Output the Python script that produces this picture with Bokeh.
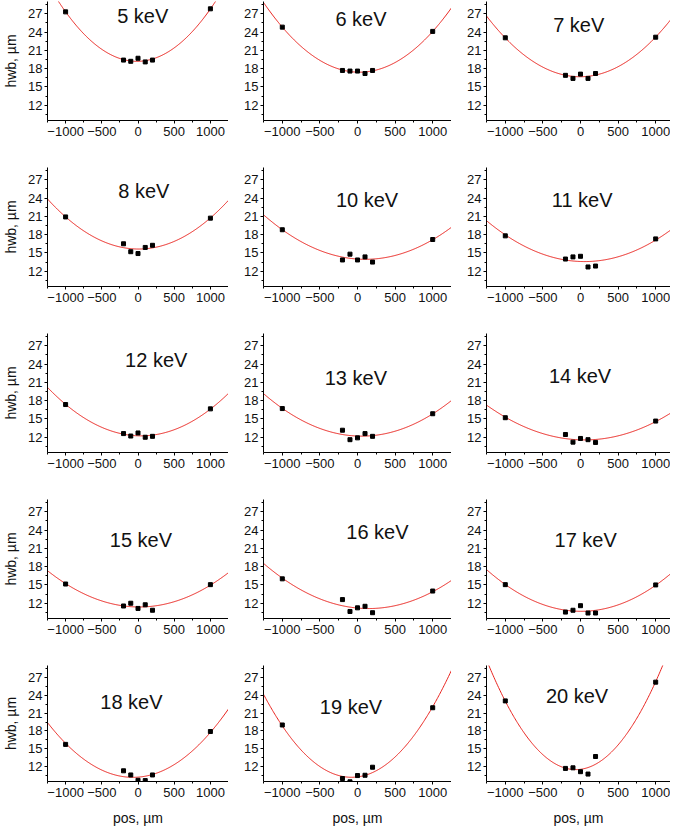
import numpy as np
from bokeh.plotting import figure
from bokeh.layouts import gridplot
from bokeh.models import FixedTicker, Label, Range1d
from bokeh.embed import file_html
from bokeh.resources import INLINE

# ---------------- data ----------------
pos = [-1000, -200, -100, 0, 100, 200, 1000]
energies = ["5 keV", "6 keV", "7 keV", "8 keV", "10 keV", "11 keV", "12 keV",
            "13 keV", "14 keV", "15 keV", "16 keV", "17 keV", "18 keV", "19 keV", "20 keV"]
hwb_5keV = [27.3, 19.4, 19.2, 19.7, 19.1, 19.4, 27.8]
hwb_6keV = [24.8, 17.7, 17.6, 17.6, 17.2, 17.7, 24.1]
hwb_7keV = [23.05, 16.9, 16.4, 17.1, 16.4, 17.2, 23.15]
hwb_8keV = [20.9, 16.5, 15.2, 14.9, 15.9, 16.25, 20.7]
hwb_10keV = [18.8, 13.85, 14.8, 13.85, 14.35, 13.5, 17.2]
hwb_11keV = [17.8, 14.0, 14.35, 14.45, 12.7, 12.85, 17.3]
hwb_12keV = [17.36, 12.6, 12.2, 12.7, 12.0, 12.15, 16.65]
hwb_13keV = [16.7, 13.15, 11.6, 11.9, 12.6, 12.15, 15.85]
hwb_14keV = [15.2, 12.45, 11.2, 11.8, 11.6, 11.15, 14.65]
hwb_15keV = [15.15, 11.55, 12.0, 11.15, 11.75, 10.85, 15.05]
hwb_16keV = [16.0, 12.6, 10.65, 11.25, 11.5, 10.45, 14.0]
hwb_17keV = [15.05, 10.55, 10.85, 11.6, 10.4, 10.4, 15.0]
hwb_18keV = [15.74, 11.3, 10.6, 9.7, 9.65, 10.6, 17.9]
hwb_19keV = [19.0, 10.0, 9.45, 10.5, 10.55, 11.9, 21.9]
hwb_20keV = [23.05, 11.7, 11.8, 11.15, 10.75, 13.7, 26.2]

series = [hwb_5keV, hwb_6keV, hwb_7keV, hwb_8keV, hwb_10keV, hwb_11keV, hwb_12keV,
          hwb_13keV, hwb_14keV, hwb_15keV, hwb_16keV, hwb_17keV, hwb_18keV,
          hwb_19keV, hwb_20keV]

x_ticks = [-1000, -500, 0, 500, 1000]
x_minor = [-1250, -750, -250, 250, 750, 1250]
y_ticks = [12, 15, 18, 21, 24, 27]
y_minor = [10.5, 13.5, 16.5, 19.5, 22.5, 25.5, 28.5]

# title placement (data coords) per panel
title_pos = [(65, 26.7), (46, 26.15), (-23, 25.2),
             (81, 25.1), (127, 23.7), (22, 23.7),
             (252, 24.7), (-22, 21.75), (-6, 22.0),
             (40, 22.3), (265, 23.65), (69, 22.3),
             (-91, 22.8), (-87, 22.0), (-46, 23.9)]

FONT = "Liberation Sans"
TXT = "#111111"

col_w = [228, 223, 219]
col_bl = [40, 35, 35]

rows = []
for r in range(5):
    row = []
    for c in range(3):
        i = r * 3 + c
        last = (r == 4)
        x_end = 1250 if c < 2 else 1197
        p = figure(width=col_w[c], height=164 if last else 166,
                   x_range=Range1d(-1250, x_end), y_range=Range1d(9.5, 29),
                   output_backend="svg", toolbar_location=None,
                   min_border_left=col_bl[c], min_border_right=0,
                   min_border_top=1, min_border_bottom=44 if last else 46)
        p.outline_line_color = None
        p.xgrid.visible = False
        p.ygrid.visible = False
        p.background_fill_color = "white"
        p.border_fill_color = "white"

        p.xaxis.ticker = FixedTicker(ticks=x_ticks, minor_ticks=x_minor)
        p.yaxis.ticker = FixedTicker(ticks=y_ticks, minor_ticks=y_minor)
        for ax in (p.xaxis[0], p.yaxis[0]):
            ax.axis_line_color = "black"
            ax.axis_line_width = 1
            ax.major_tick_line_color = "black"
            ax.minor_tick_line_color = "black"
            ax.major_tick_in = 0
            ax.major_tick_out = 3
            ax.minor_tick_in = 0
            ax.minor_tick_out = 2
            ax.major_label_text_font = FONT
            ax.major_label_text_font_size = "13px"
            ax.major_label_text_color = TXT
            ax.axis_label_text_font = FONT
            ax.axis_label_text_font_size = "14px"
            ax.axis_label_text_font_style = "normal"
            ax.axis_label_text_color = TXT
        p.xaxis.major_label_standoff = 3
        p.yaxis.major_label_standoff = 2
        if c == 0:
            p.yaxis.axis_label = "hwb, µm"
            p.yaxis.axis_label_standoff = 6
        if last:
            p.xaxis.axis_label = "pos, µm"
            p.xaxis.axis_label_standoff = 10

        y = np.array(series[i])
        coef = np.polyfit(pos, y, 2)
        xs = np.linspace(-1250, 1250, 251)
        p.line(xs, np.polyval(coef, xs), line_color="#e8231e", line_width=1)
        p.scatter(pos, series[i], marker="square", size=4,
                  fill_color="black", line_color="black", line_width=1)

        tx, ty = title_pos[i]
        p.add_layout(Label(x=tx, y=ty, text=energies[i], text_align="center",
                           text_baseline="middle", text_font=FONT,
                           text_font_size="20px", text_color=TXT))
        row.append(p)
    rows.append(row)

grid = gridplot(rows, toolbar_location=None)
open("out.html", "w").write(file_html(grid, INLINE))
